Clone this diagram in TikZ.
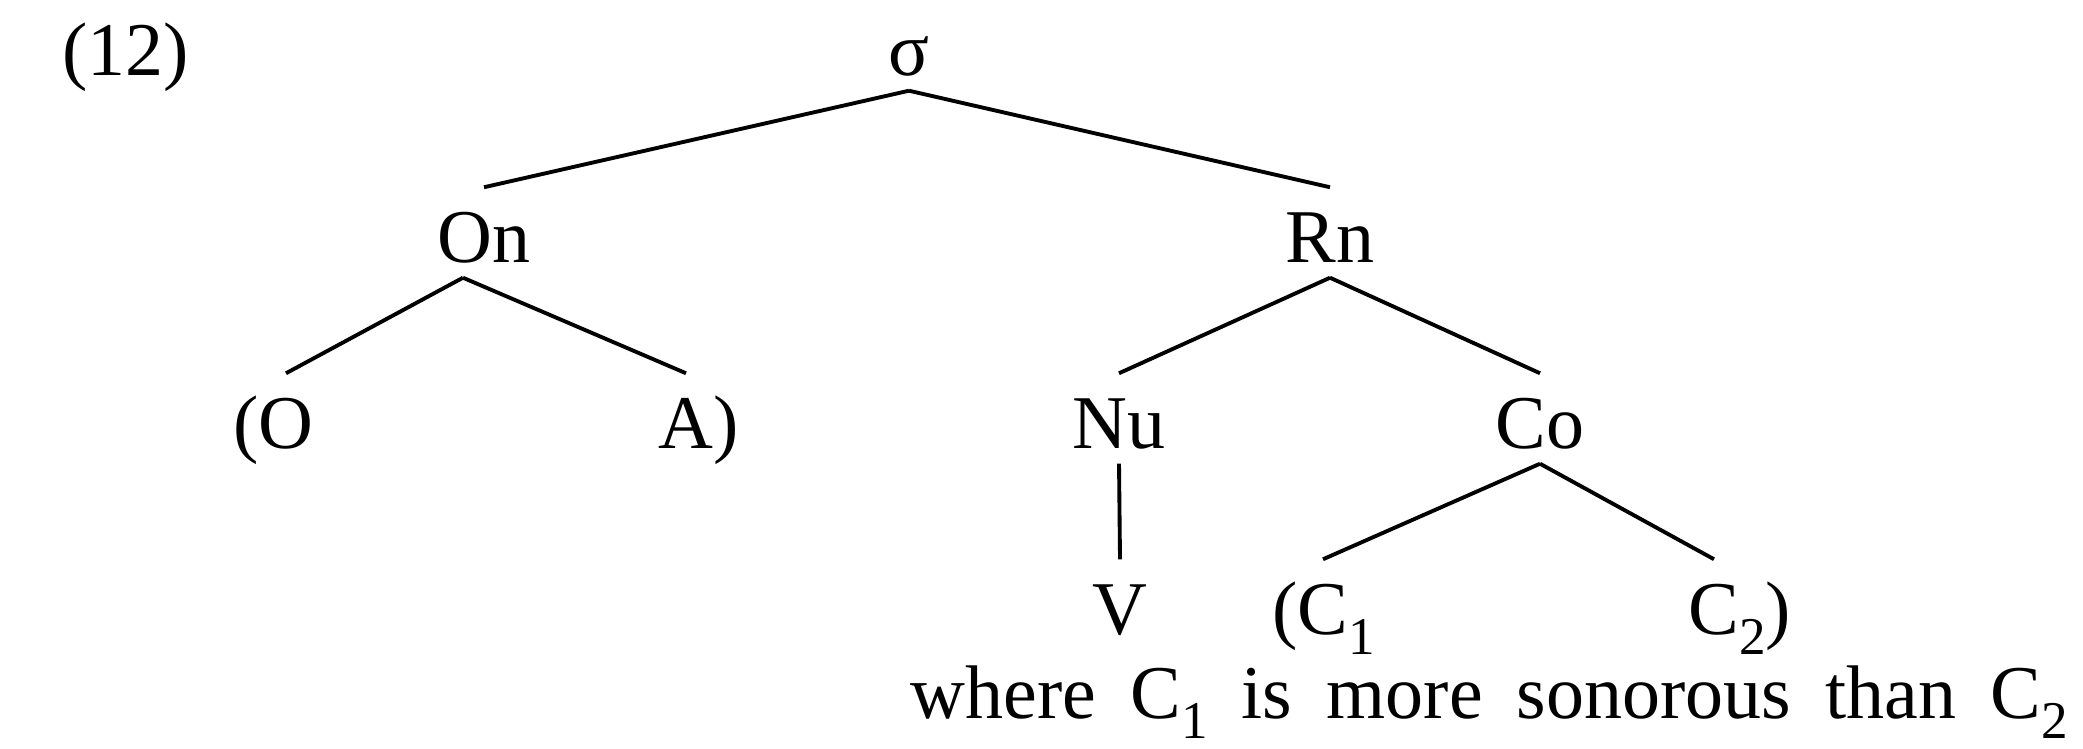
\documentclass[tikz,border=0pt]{standalone}
\usepackage{fontspec}
\setmainfont{Liberation Serif}
\newcommand{\lowsub}[1]{\raisebox{-0.27em}{\fontsize{15.1pt}{18pt}\selectfont #1}}

\begin{document}
\begin{tikzpicture}[x=0.01cm, y=-0.01cm,
    lbl/.style={font=\fontsize{21.6pt}{26pt}\selectfont, inner sep=0pt, anchor=base,
                text height=0.74cm, text depth=0.15cm},
    branch/.style={line width=1.1pt}
]
  \useasboundingbox (0,0) rectangle (2083,748);

  \node (exnum) at (62,75)    [lbl, anchor=base west] {(12)};
  \node (sig)   at (909,75)   [lbl] {σ};
  \node (on)    at (484,262)  [lbl] {On};
  \node (rn)    at (1330,262) [lbl] {Rn};
  \node (o)     at (286,448)  [lbl] {\llap{(}O};
  \node (a)     at (686,448)  [lbl] {A\rlap{)}};
  \node (nu)    at (1119,448) [lbl] {Nu};
  \node (co)    at (1540,448) [lbl] {Co};
  \node (v)     at (1120,634) [lbl] {V};
  \node (ca)    at (1323,634) [lbl] {\llap{(}C\rlap{\lowsub{1}}};
  \node (cb)    at (1714,634) [lbl] {C\rlap{\lowsub{2})}};
  \node (note)  at (910,718)  [lbl, anchor=base west, text height=0.55cm, text depth=0.2cm]
        {\spaceskip=0.45em where C\lowsub{1} is more sonorous than C\lowsub{2}};

  \draw[branch] (sig.south) -- (on.north);
  \draw[branch] (sig.south) -- (rn.north);
  \draw[branch] ([xshift=-0.21cm]on.south) -- (o.north);
  \draw[branch] ([xshift=-0.21cm]on.south) -- (a.north);
  \draw[branch] (rn.south) -- (nu.north);
  \draw[branch] (rn.south) -- (co.north);
  \draw[branch] (nu.south) -- (v.north);
  \draw[branch] (co.south) -- (ca.north);
  \draw[branch] (co.south) -- (cb.north);
\end{tikzpicture}
\end{document}
